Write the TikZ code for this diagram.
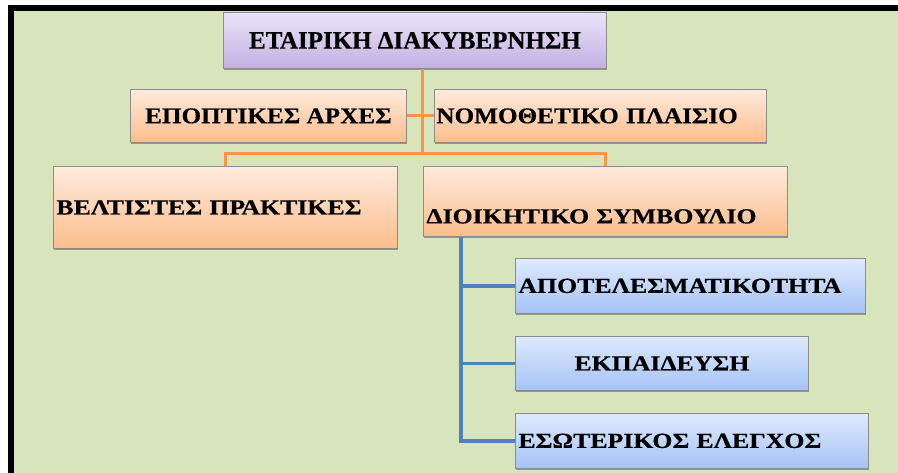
\documentclass[tikz,border=0pt]{standalone}
\usepackage{fontspec}
\setmainfont{Liberation Serif}[BoldFeatures={FakeBold=0.6}]
\newfontfamily\midfont{Liberation Serif}[FakeStretch=1.12, BoldFeatures={FakeBold=0.6}]
\newfontfamily\widefont{Liberation Serif}[FakeStretch=1.2, BoldFeatures={FakeBold=0.6}]
\usepackage{xcolor}
\usepackage{tikz}
\usetikzlibrary{shadows}

\definecolor{pagegreen}{HTML}{D8E4BC}
\definecolor{linkorange}{HTML}{F79646}
\definecolor{linkblue}{HTML}{4F81BD}
\definecolor{purpletop}{HTML}{EAE3F7}
\definecolor{purplebot}{HTML}{C2B0E2}
\definecolor{orangetop}{HTML}{FFEADD}
\definecolor{orangebot}{HTML}{FBBD8C}
\definecolor{bluetop}{HTML}{DEE9FD}
\definecolor{bluebot}{HTML}{A5C3F6}

\begin{document}
\begin{tikzpicture}[
    x=1pt, y=-1pt,
    box/.style={rectangle, draw=black!45, line width=0.8pt, anchor=north west,
        inner xsep=3pt, inner ysep=0pt,
        drop shadow={shadow xshift=0.8pt, shadow yshift=-1.4pt, fill=black!70, opacity=.5}},
    purplebox/.style={box, top color=purpletop, bottom color=purplebot},
    orangebox/.style={box, top color=orangetop, bottom color=orangebot},
    bluebox/.style={box, top color=bluetop, bottom color=bluebot},
    orangeline/.style={linkorange, line width=3pt},
    blueline/.style={linkblue, line width=3.5pt}
]
\useasboundingbox (0,0) rectangle (898,473);
\fill[pagegreen] (14,11) rectangle (898,473);
\fill[black] (8,5) rectangle (898,11);
\fill[black] (8,5) rectangle (14,473);

% top of the chart
\node[purplebox, minimum width=383pt, minimum height=56pt, align=center,
    font=\fontsize{25}{29}\selectfont\bfseries] (corp) at (223,12) {ΕΤΑΙΡΙΚΗ ΔΙΑΚΥΒΕΡΝΗΣΗ};

% second row
\node[orangebox, minimum width=276pt, minimum height=53pt, align=center,
    font=\midfont\fontsize{22.5}{26}\selectfont\bfseries] (supervis) at (130,89) {ΕΠΟΠΤΙΚΕΣ ΑΡΧΕΣ};
\node[orangebox, minimum width=332pt, text width=328pt, inner xsep=2pt, minimum height=53pt, align=left,
    font=\midfont\fontsize{22.5}{26}\selectfont\bfseries] (legal) at (434,89) {ΝΟΜΟΘΕΤΙΚΟ ΠΛΑΙΣΙΟ};

% third row
\node[orangebox, minimum width=344pt, text width=338pt, minimum height=82pt, align=left,
    font=\widefont\fontsize{21.5}{25}\selectfont\bfseries] (practice) at (53,166) {ΒΕΛΤΙΣΤΕΣ ΠΡΑΚΤΙΚΕΣ};
\node[orangebox, minimum width=364pt, text width=358pt, minimum height=70pt, align=left,
    text height=44pt, text depth=0pt,
    font=\widefont\fontsize{21.5}{25}\selectfont\bfseries] (board) at (423,166) {ΔΙΟΙΚΗΤΙΚΟ ΣΥΜΒΟΥΛΙΟ};

% under the board
\node[bluebox, minimum width=350pt, text width=344pt, minimum height=55pt, align=left,
    font=\widefont\fontsize{21.5}{25}\selectfont\bfseries] (effic) at (515,258) {ΑΠΟΤΕΛΕΣΜΑΤΙΚΟΤΗΤΑ};
\node[bluebox, minimum width=293pt, minimum height=54pt, align=center,
    font=\widefont\fontsize{21.5}{25}\selectfont\bfseries] (training) at (515,336) {ΕΚΠΑΙΔΕΥΣΗ};
\node[bluebox, minimum width=353pt, text width=347pt, minimum height=55pt, align=left,
    font=\widefont\fontsize{21.5}{25}\selectfont\bfseries] (audit) at (515,413) {ΕΣΩΤΕΡΙΚΟΣ ΕΛΕΓΧΟΣ};

\coordinate (hub) at (422,154);
\coordinate (bus) at (board.south -| 461,0);

\draw[orangeline] (corp.south -| hub) -- (hub);
\draw[orangeline] (supervis.east) -- (legal.west);
\draw[orangeline] (practice.north) |- (hub) -| (board.north);

\draw[blueline] (bus) |- (effic.west);
\draw[blueline] (bus) |- (training.west);
\draw[blueline] (bus) |- (audit.west);
\end{tikzpicture}
\end{document}
